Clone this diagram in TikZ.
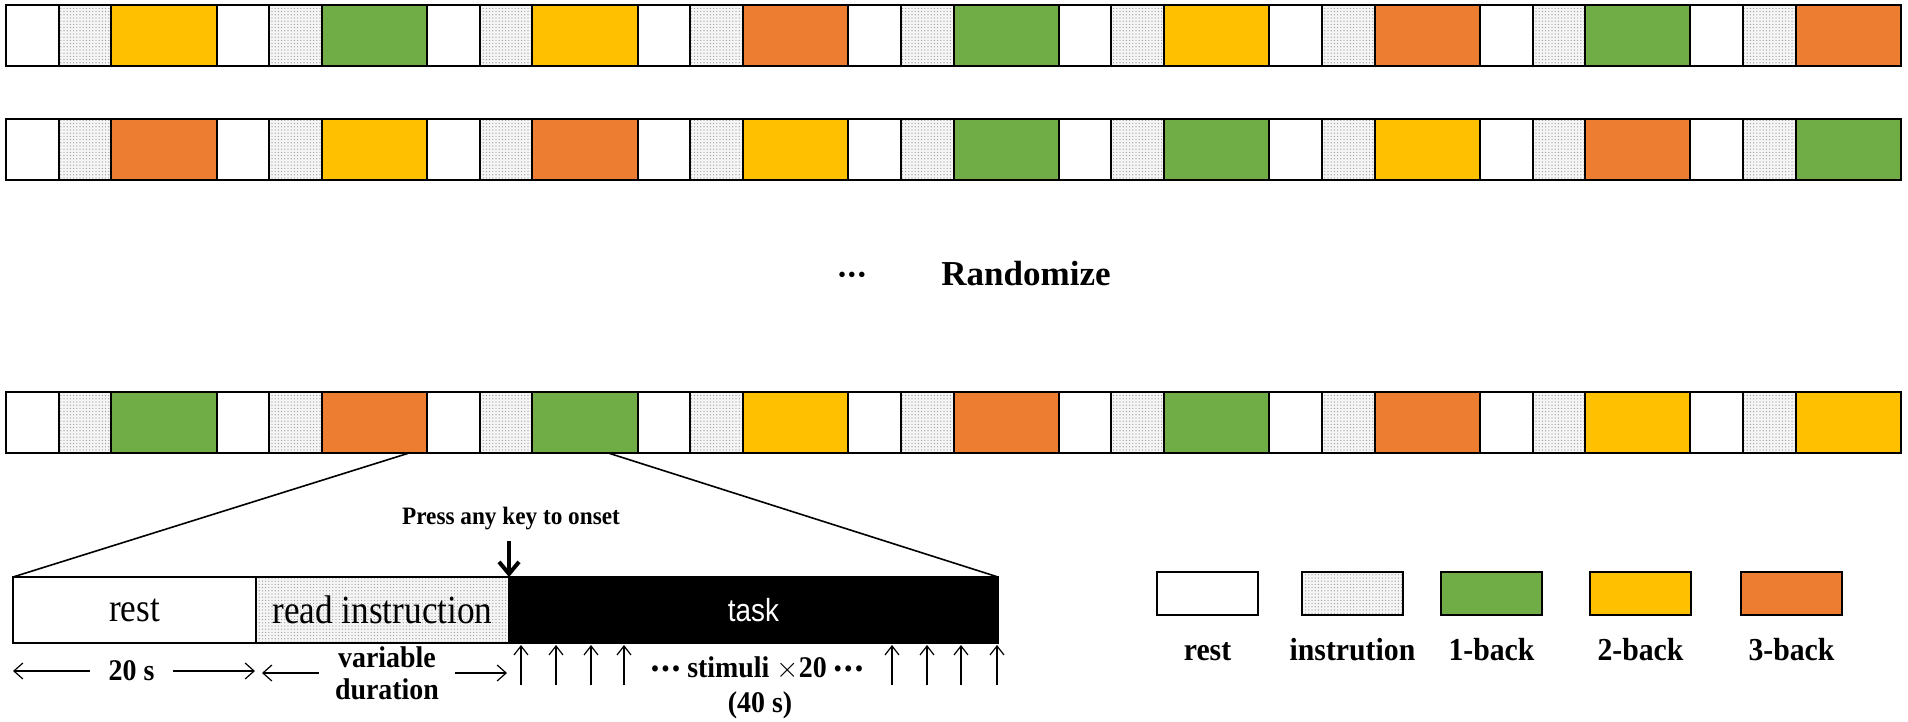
\documentclass[tikz,border=0pt]{standalone}
\usepackage{fontspec}
\setmainfont{Liberation Serif}
\newfontfamily\narrowserif[FakeStretch=0.88]{Liberation Serif}
\newfontfamily\boldlabfont[FakeStretch=0.93]{Liberation Serif}
\newfontfamily\tasksans[FakeStretch=0.87]{Liberation Sans}
\usepackage{tikz}
\usetikzlibrary{positioning,calc,patterns.meta,arrows.meta}
\definecolor{oneback}{HTML}{70AD47}
\definecolor{twoback}{HTML}{FFC000}
\definecolor{threeback}{HTML}{ED7D31}

\tikzset{
	dotfill/.style={preaction={fill=gray!8}, pattern={Dots[distance=1.6pt,radius=0.3pt]}, pattern color=gray!85},
	cell/.style={draw=black, line width=1pt, inner sep=0pt, outer sep=0pt, minimum height=30.5pt, anchor=north west},
	restcell/.style={cell, fill=white, minimum width=26.32pt},
	instcell/.style={cell, dotfill, minimum width=26.32pt},
	taskcell/.style={cell, fill=#1, minimum width=52.64pt},
	detcell/.style={minimum height=33pt, line width=1.2pt},
	zoomline/.style={line width=0.8pt},
	keyarrow/.style={-{Straight Barb[length=6pt,width=10pt]}, line width=2pt},
	spanarrow/.style={-{Straight Barb[length=4.5pt,width=8pt]}, line width=0.6pt},
	stimarrow/.style={-{Straight Barb[length=4.5pt,width=7pt]}, line width=0.6pt, shorten >=1pt},
	boldlab/.style={font=\boldlabfont\bfseries\fontsize{15}{16}\selectfont},
	legbox/.style={draw=black, line width=1pt, minimum width=50.5pt, minimum height=21.5pt, inner sep=0pt, outer sep=0pt},
	leglabel/.style={font=\boldlabfont\bfseries\fontsize{16}{19}\selectfont, inner sep=0pt, text height=11pt, text depth=0pt}
}
\newcommand{\bulletdots}{•\kern0.08em•\kern0.08em•}

\begin{document}
\begin{tikzpicture}[x=0.5pt,y=-0.5pt]
	\useasboundingbox (0,0) rectangle (1908,722);

	% three randomized runs
	\foreach \rw/\ytop/\cols in {1/5/{twoback,oneback,twoback,threeback,oneback,twoback,threeback,oneback,threeback},
			2/119/{threeback,twoback,threeback,twoback,oneback,oneback,twoback,threeback,oneback},
			3/392/{oneback,threeback,oneback,twoback,threeback,oneback,threeback,twoback,twoback}}
		\foreach \col [count=\n from 0] in \cols {
			\node[restcell] (r\rw-rest\n) at (6+\n*210.56,\ytop) {};
			\node[instcell, right=0pt of r\rw-rest\n] (r\rw-inst\n) {};
			\node[taskcell=\col, right=0pt of r\rw-inst\n] (r\rw-task\n) {};
		}

	\node[font=\fontsize{11.5}{14}\selectfont] (moredots) at (852,277) {\bulletdots};
	\node[font=\fontsize{17.5}{21}\selectfont\bfseries] (randomize) at (1026,274) {Randomize};

	% one block in detail
	\node[restcell, detcell, minimum width=121.5pt, font=\narrowserif\fontsize{20}{24}\selectfont] (detrest) at (13,577) {rest};
	\node[instcell, detcell, minimum width=126.5pt, font=\narrowserif\fontsize{20}{24}\selectfont, right=0pt of detrest] (detinst) {read instruction};
	\node[cell, detcell, fill=black, text=white, minimum width=244.5pt, font=\tasksans\fontsize{16}{19}\selectfont, right=0pt of detinst] (dettask) {task};

	\draw[zoomline] ($(r3-task1.south west)!0.83!(r3-task1.south east)$) -- (detrest.north west);
	\draw[zoomline] ($(r3-task2.south west)!0.72!(r3-task2.south east)$) -- (dettask.north east);

	\node[boldlab, font=\boldlabfont\bfseries\fontsize{12.5}{15}\selectfont] (press) at (511,519) {Press any key to onset};
	\coordinate (keytop) at (509,541);
	\draw[keyarrow] (keytop) -- (dettask.north west);

	\node[boldlab, inner xsep=9pt] (twenty) at (131.5,671) {20 s};
	\draw[spanarrow] (twenty.west) -- (twenty.west -| detrest.west);
	\draw[spanarrow, shorten >=0.5pt] (twenty.east) -- (twenty.east -| detinst.west);

	\node[boldlab, align=center, inner xsep=8pt] (vardur) at (387,673) {variable\\duration};
	\draw[spanarrow, shorten >=3pt] (vardur.west) -- (vardur.west -| detinst.west);
	\draw[spanarrow, shorten >=1pt] (vardur.east) -- (vardur.east -| dettask.west);

	\foreach \sx [count=\s] in {521,556,591,624,892,927,961,997} {
		\coordinate (stim\s) at (\sx,685);
		\draw[stimarrow] (stim\s) -- (stim\s |- dettask.south);
	}
	\node[boldlab] (stimuli) at (757,668) {{\fontsize{13}{16}\selectfont\mdseries\bulletdots} stimuli $\times$20 {\fontsize{13}{16}\selectfont\mdseries\bulletdots}};
	\node[boldlab] (forty) at (760,705) {(40 s)};

	% legend
	\node[legbox, fill=white] (legrest) at (1207.5,593.5) {};
	\node[legbox, dotfill, right=22pt of legrest] (leginst) {};
	\node[legbox, fill=oneback, right=19pt of leginst] (legone) {};
	\node[legbox, fill=twoback, right=24pt of legone] (legtwo) {};
	\node[legbox, fill=threeback, right=25pt of legtwo] (legthree) {};

	\node[leglabel, below=11.5pt of legrest] (legrestlab) {rest};
	\node[leglabel, below=11.5pt of leginst] (leginstlab) {instrution};
	\node[leglabel, below=11.5pt of legone] (legonelab) {1-back};
	\node[leglabel, below=11.5pt of legtwo] (legtwolab) {2-back};
	\node[leglabel, below=11.5pt of legthree] (legthreelab) {3-back};
\end{tikzpicture}
\end{document}
